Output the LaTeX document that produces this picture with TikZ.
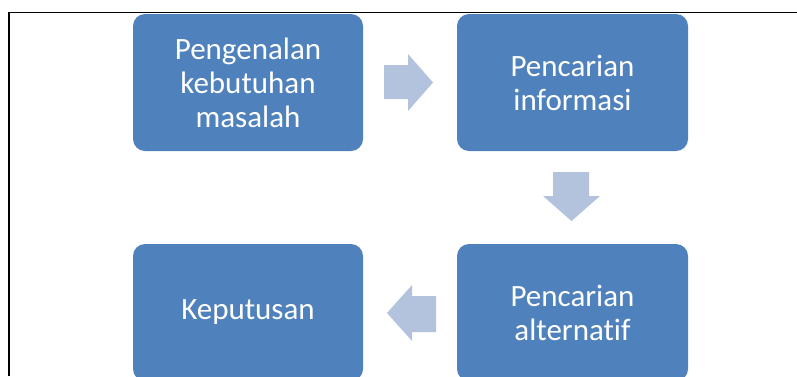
\documentclass[tikz,border=0pt]{standalone}
\usepackage{fontspec}
\setmainfont[RawFeature={-liga}]{Carlito}
\definecolor{boxblue}{HTML}{4F81BD}
\definecolor{arrowblue}{HTML}{B3C3DE}
\begin{document}
\begin{tikzpicture}[x=1pt,y=-1pt,
  stepbox/.style={draw=none,fill=boxblue,rounded corners=12pt,text=white,
    minimum width=230pt,minimum height=137pt,align=center,inner sep=0pt,
    font=\fontsize{31}{34}\selectfont},
  blockarrow/.style={fill=arrowblue,draw=none}]
\useasboundingbox (0,0) rectangle (797,376);
\clip (0,0) rectangle (797,376);
\fill[white] (0,0) rectangle (797,376);
\draw[line width=1.9pt] (9,376) -- (9,12.5) -- (797,12.5);
\node[stepbox] (a) at (248,82.5) {Pengenalan\\kebutuhan\\masalah};
\node[stepbox,minimum width=231pt] (b) at (572.5,82.5) {Pencarian\\informasi};
\node[stepbox,minimum width=231pt] (c) at (572.5,312.5) {Pencarian\\alternatif};
\node[stepbox] (d) at (248,312.5) {Keputusan};
% block arrows
\fill[blockarrow] (384,65) -- (408,65) -- (408,54) -- (433,82.5) -- (408,111) -- (408,99) -- (384,99) -- cycle;
\fill[blockarrow] (553,172) -- (589,172) -- (589,196) -- (600,196) -- (571.5,221) -- (543,196) -- (553,196) -- cycle;
\fill[blockarrow] (436,296) -- (412,296) -- (412,285) -- (387,313) -- (412,341) -- (412,332) -- (436,332) -- cycle;
\end{tikzpicture}
\end{document}
